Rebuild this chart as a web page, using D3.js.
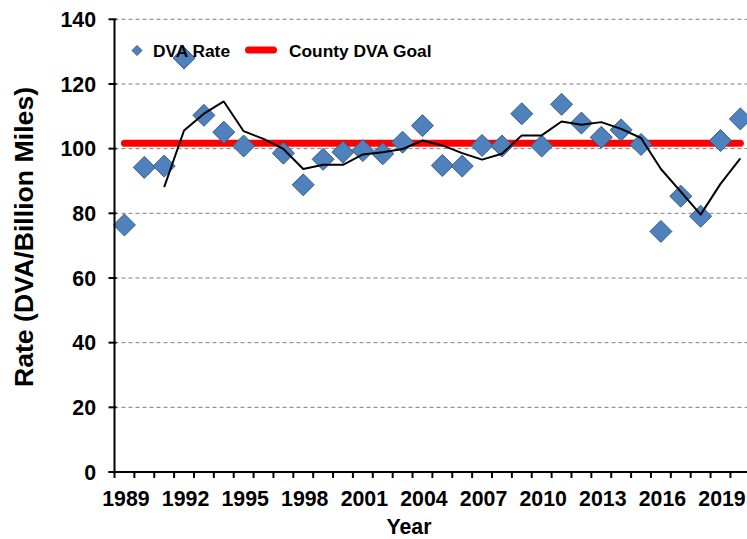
<!DOCTYPE html>
<html>
<head>
<meta charset="utf-8">
<script src="https://cdn.jsdelivr.net/npm/d3@7"></script>
<style>
  html, body { margin: 0; padding: 0; background: #fff; }
  svg { display: block; font-family: "Liberation Sans", Arial, sans-serif; font-weight: bold; }
</style>
</head>
<body>
<svg id="chart" width="747" height="539"></svg>
<script>
const years = [1989,1990,1991,1992,1993,1994,1995,1996,1997,1998,1999,2000,2001,2002,2003,2004,
               2005,2006,2007,2008,2009,2010,2011,2012,2013,2014,2015,2016,2017,2018,2019,2020];
const dvaRate = [76.4,94.2,94.6,128.0,110.3,105.1,100.8,null,98.6,88.8,96.7,98.9,99.4,98.4,102.0,107.1,
                 94.8,94.6,101.0,100.8,110.8,100.8,113.7,107.9,103.5,105.8,101.3,74.4,85.3,79.1,102.5,109.2];
const trend = [null,null,88.1,105.6,110.8,114.6,105.4,103.0,99.9,93.7,95.0,95.0,98.2,98.9,99.9,102.5,
               101.0,98.6,96.6,98.4,104.1,104.1,108.4,107.4,108.2,106.1,103.3,93.7,86.7,79.6,89.1,97.0];
const countyGoal = 101.7;
const yTicks = [0,20,40,60,80,100,120,140];
const xLabelYears = [1989,1992,1995,1998,2001,2004,2007,2010,2013,2016,2019];
const seriesNames = ["DVA Rate", "County DVA Goal"];
const yTitle = "Rate (DVA/Billion Miles)";
const xTitle = "Year";

const svg = d3.select("#chart");
const pL = 114.5, pR = 750.3, pT = 19.3, pB = 472;

const x = d3.scaleBand().domain(years).range([pL, pR]).padding(0);
const xc = d => x(d) + x.bandwidth() / 2;
const y = d3.scaleLinear().domain([0, 140]).range([pB, pT]);

// gridlines
svg.append("g").selectAll("line").data(yTicks.filter(t => t > 0)).join("line")
  .attr("x1", pL).attr("x2", 747)
  .attr("y1", d => y(d)).attr("y2", d => y(d))
  .attr("stroke", "#7f7f7f").attr("stroke-width", 1).attr("stroke-dasharray", "4,3");

// goal line
svg.append("line")
  .attr("x1", xc(years[0])).attr("x2", xc(years[years.length - 1]))
  .attr("y1", y(countyGoal)).attr("y2", y(countyGoal))
  .attr("stroke", "#ff0000").attr("stroke-width", 7).attr("stroke-linecap", "round");

// diamonds
const diamond = (cx, cy, r) => `M${cx},${cy - r}L${cx + r},${cy}L${cx},${cy + r}L${cx - r},${cy}Z`;
const pts = years.map((yr, i) => ({ yr, v: dvaRate[i] })).filter(d => d.v != null);
svg.append("g").selectAll("path").data(pts).join("path")
  .attr("d", d => diamond(xc(d.yr), y(d.v), 11))
  .attr("fill", "#4f81bd").attr("stroke", "#385d8a").attr("stroke-width", 1);

// trend line
const tr = years.map((yr, i) => ({ yr, v: trend[i] })).filter(d => d.v != null);
svg.append("path").datum(tr)
  .attr("d", d3.line().x(d => xc(d.yr)).y(d => y(d.v)))
  .attr("fill", "none").attr("stroke", "#000").attr("stroke-width", 2).attr("stroke-linejoin", "round");

// y axis
svg.append("line").attr("x1", pL).attr("x2", pL).attr("y1", pT).attr("y2", pB)
  .attr("stroke", "#000").attr("stroke-width", 2);
svg.append("g").selectAll("line").data(yTicks).join("line")
  .attr("x1", pL - 6).attr("x2", pL + 2)
  .attr("y1", d => y(d)).attr("y2", d => y(d))
  .attr("stroke", "#000").attr("stroke-width", 2);
svg.append("g").selectAll("text").data(yTicks).join("text")
  .attr("x", 96).attr("y", d => y(d) + 7.6)
  .attr("text-anchor", "end").attr("font-size", "21.33px").attr("fill", "#000")
  .text(d => d);

// x axis
svg.append("line").attr("x1", pL - 6).attr("x2", pR).attr("y1", pB).attr("y2", pB)
  .attr("stroke", "#000").attr("stroke-width", 2);
const bounds = years.map(yr => x(yr)).concat([pR]);
svg.append("g").selectAll("line").data(bounds).join("line")
  .attr("x1", d => d).attr("x2", d => d)
  .attr("y1", pB).attr("y2", pB + 6)
  .attr("stroke", "#000").attr("stroke-width", 2);
svg.append("g").selectAll("text").data(xLabelYears).join("text")
  .attr("x", d => xc(d) + 1.5).attr("y", 505.5)
  .attr("text-anchor", "middle").attr("font-size", "21.33px").attr("fill", "#000")
  .text(d => d);

// titles
svg.append("text").attr("x", 409).attr("y", 534)
  .attr("text-anchor", "middle").attr("font-size", "21.33px").attr("fill", "#000").text(xTitle);
svg.append("text").attr("transform", "translate(33,237) rotate(-90)")
  .attr("text-anchor", "middle").attr("font-size", "26.67px").attr("fill", "#000").text(yTitle);

// legend
const lg = svg.append("g");
lg.append("path").attr("d", diamond(137, 50.5, 5))
  .attr("fill", "#4f81bd").attr("stroke", "#385d8a").attr("stroke-width", 1);
lg.append("text").attr("x", 153).attr("y", 56.7).attr("font-size", "17.33px").attr("fill", "#000").text(seriesNames[0]);
lg.append("line").attr("x1", 248.5).attr("x2", 273.5).attr("y1", 50).attr("y2", 50)
  .attr("stroke", "#ff0000").attr("stroke-width", 7).attr("stroke-linecap", "round");
lg.append("text").attr("x", 289).attr("y", 56.7).attr("font-size", "17.33px").attr("fill", "#000").text(seriesNames[1]);
</script>
</body>
</html>
